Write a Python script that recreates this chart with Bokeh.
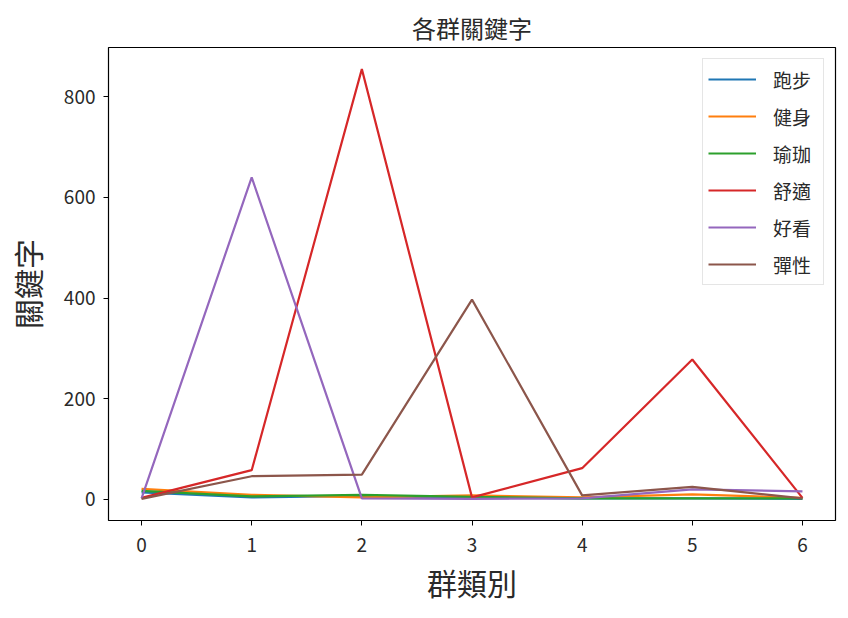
from bokeh.plotting import figure
from bokeh.models import Legend, LegendItem, FixedTicker, Range1d
from bokeh.embed import file_html
from bokeh.resources import INLINE

clusters = [0, 1, 2, 3, 4, 5, 6]
names = ["跑步", "健身", "瑜珈", "舒適", "好看", "彈性"]
run = [14, 4, 7, 3, 2, 2, 1]
fitness = [21, 9, 4, 8, 4, 10, 3]
yoga = [17, 6, 9, 5, 2, 2, 2]
comfort = [3, 58, 855, 4, 62, 278, 3]
looks = [2, 640, 2, 1, 2, 20, 16]
stretch = [1, 46, 49, 397, 8, 25, 2]
series = [run, fitness, yoga, comfort, looks, stretch]
colors = ["#1f77b4", "#ff7f0e", "#2ca02c", "#d62728", "#9467bd", "#8c564b"]

FONT = "Noto Sans CJK TC"
TXT = "#2a2a2a"

p = figure(width=848, height=618, output_backend="svg", toolbar_location=None,
           x_range=Range1d(-0.3, 6.3), y_range=Range1d(-42, 898),
           min_border_left=108, min_border_right=13, min_border_top=47, min_border_bottom=98,
           title="各群關鍵字")
p.title.align = "center"
p.title.text_font = FONT
p.title.text_font_size = "24px"
p.title.text_font_style = "normal"
p.title.text_color = TXT
p.title.offset = 0
p.title.standoff = 6

items = []
for name, ys, c in zip(names, series, colors):
    r = p.line(clusters, ys, line_color=c, line_width=2.2)
    items.append(LegendItem(label=name, renderers=[r]))

legend = Legend(items=items, location=(594, 235), padding=5, margin=0, spacing=7,
                glyph_height=30, glyph_width=48, label_height=30, label_width=45,
                label_standoff=17, label_text_font=FONT, label_text_font_size="19px",
                label_text_color=TXT, border_line_color="#cccccc",
                border_line_width=1, background_fill_alpha=0.8)
p.add_layout(legend, "center")

p.xgrid.visible = False
p.ygrid.visible = False
p.outline_line_color = "black"
p.outline_line_width = 1.2

p.xaxis.ticker = FixedTicker(ticks=clusters)
p.yaxis.ticker = FixedTicker(ticks=[0, 200, 400, 600, 800])
for ax in (p.xaxis[0], p.yaxis[0]):
    ax.axis_line_color = None
    ax.minor_tick_line_color = None
    ax.major_tick_out = 5
    ax.major_tick_in = 0
    ax.major_tick_line_color = "black"
    ax.major_label_text_font = FONT
    ax.major_label_text_font_size = "19px"
    ax.major_label_text_color = TXT
    ax.axis_label_text_font = FONT
    ax.axis_label_text_font_size = "30px"
    ax.axis_label_text_font_style = "normal"
    ax.axis_label_text_color = TXT
p.xaxis.axis_label = "群類別"
p.yaxis.axis_label = "關鍵字"
p.yaxis.major_label_orientation = "horizontal"
p.xaxis.major_label_standoff = 12
p.xaxis.axis_label_standoff = 5
p.yaxis.major_label_standoff = 8
p.yaxis.axis_label_standoff = 12

open("out.html", "w").write(file_html(p, INLINE))
